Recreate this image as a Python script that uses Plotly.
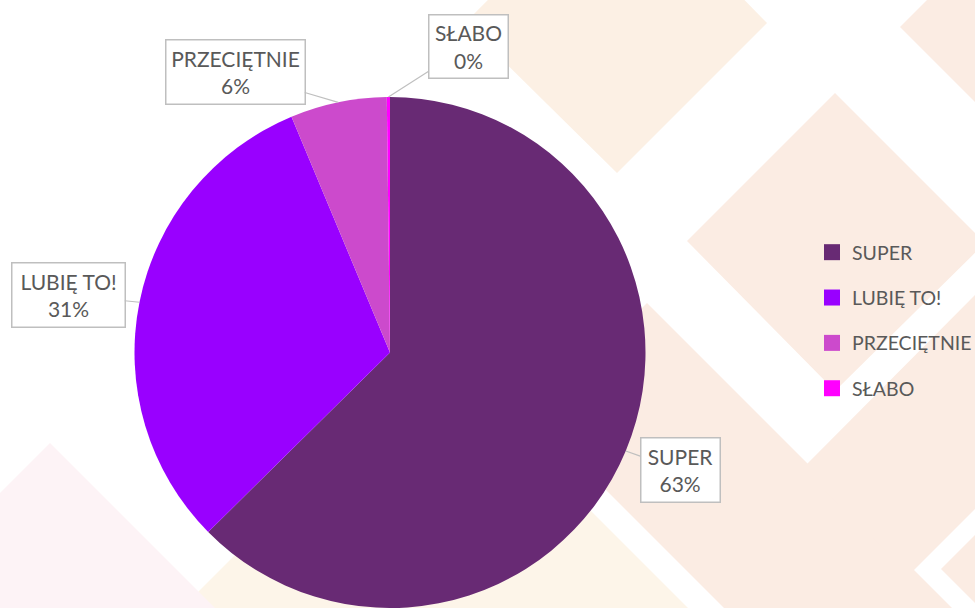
import math
import plotly.graph_objects as go

# ---------------- data ----------------
labels = ["SUPER", "LUBIĘ TO!", "PRZECIĘTNIE", "SŁABO"]
values = [62.6, 31.1, 6.1, 0.2]
colors = ["#682A74", "#9900FF", "#CC4ACC", "#FF00FF"]

# ---------------- styling ----------------
W, H = 975, 608
FONT = "Lato, 'Open Sans', sans-serif"
TXT = "#595959"
BOXLINE = "#BFBFBF"

# pie placement (pixels)
pie_left, pie_right, pie_top, pie_bottom = 132, 648, 97, 608
dom_x = [pie_left / W, pie_right / W]
dom_y = [1 - pie_bottom / H, 1 - pie_top / H]
cx = (pie_left + pie_right) / 2
cy = (pie_top + pie_bottom) / 2
rad = min(pie_right - pie_left, pie_bottom - pie_top) / 2

# callout boxes: centre (px), width, height
boxes = {
    "SUPER": (680, 470, 81, 66),
    "LUBIĘ TO!": (68, 295, 115, 66),
    "PRZECIĘTNIE": (235, 72, 141, 66),
    "SŁABO": (468, 46, 81, 65),
}

# faint background diamonds (pixel polygons)
bg_polys = [
    ([(617, -130), (767, 23), (617, 173), (465, 23)], "#FCF0E4"),
    ([(835, 93), (985, 243), (835, 391), (687, 241)], "#FBECE3"),
    ([(1050, -123), (1200, 27), (1050, 177), (900, 27)], "#FBECE3"),
    ([(533, 417), (647, 303), (952, 608), (838, 722)], "#FBECE3"),
    ([(803, 468), (993, 277), (1100, 384), (909, 575)], "#FBECE3"),
    ([(941, 569), (1100, 410), (1300, 610), (1141, 769)], "#FBECE3"),
    ([(435, 355), (690, 610), (435, 865), (150, 640)], "#FDF5E9"),
    ([(50, 443), (250, 643), (50, 843), (-150, 643)], "#FDF3F6"),
]


def px2paper(x, y):
    return x / W, 1 - y / H


shapes = []
for pts, col in bg_polys:
    path = ""
    for i, (x, y) in enumerate(pts):
        px, py = px2paper(x, y)
        path += ("M" if i == 0 else "L") + f"{px:.5f},{py:.5f} "
    path += "Z"
    shapes.append(dict(type="path", path=path, xref="paper", yref="paper",
                       fillcolor=col, line=dict(width=0), layer="below"))

fig = go.Figure()
fig.add_trace(go.Pie(
    labels=labels, values=values, sort=False, direction="clockwise", rotation=0,
    marker=dict(colors=colors, line=dict(width=0)),
    textinfo="none", hoverinfo="label+percent", showlegend=False,
    domain=dict(x=dom_x, y=dom_y),
))

# legend entries (square markers)
for lab, col in zip(labels, colors):
    fig.add_trace(go.Scatter(
        x=[None], y=[None], mode="markers", name=lab, legendgroup=lab,
        marker=dict(symbol="square", size=16, color=col), hoverinfo="skip",
    ))

# callout annotations computed from the data
total = sum(values)
annotations = []
start = 0.0
for lab, v in zip(labels, values):
    frac = v / total
    mid = (start + frac / 2) * 2 * math.pi
    start += frac
    tx = cx + rad * math.sin(mid)
    ty = cy - rad * math.cos(mid)
    bx, by, bw, bh = boxes[lab]
    px, py = px2paper(tx, ty)
    annotations.append(dict(
        x=px, y=py, xref="paper", yref="paper",
        ax=bx - tx, ay=by - ty, axref="pixel", ayref="pixel",
        text=f"{lab}<br>{round(frac * 100)}%",
        showarrow=True, arrowhead=0, arrowwidth=1.2, arrowcolor=BOXLINE,
        standoff=0, bordercolor=BOXLINE, borderwidth=1.5, borderpad=0,
        bgcolor="white", width=bw - 3, height=bh - 3,
        font=dict(family=FONT, size=21, color=TXT), align="center",
    ))

fig.update_layout(
    width=W, height=H, autosize=False,
    margin=dict(l=0, r=0, t=0, b=0, autoexpand=False),
    paper_bgcolor="white", plot_bgcolor="rgba(0,0,0,0)",
    xaxis=dict(visible=False), yaxis=dict(visible=False),
    shapes=shapes, annotations=annotations,
    showlegend=True,
    legend=dict(
        x=812 / W, y=1 - 233 / H, xanchor="left", yanchor="top",
        font=dict(family=FONT, size=19.5, color=TXT),
        tracegroupgap=17, itemsizing="trace", bgcolor="rgba(0,0,0,0)",
    ),
)

fig.write_html(
    "out.html",
    config={"responsive": False, "displayModeBar": False},
    post_script="document.body.style.margin='0';document.body.style.overflow='hidden';",
)
